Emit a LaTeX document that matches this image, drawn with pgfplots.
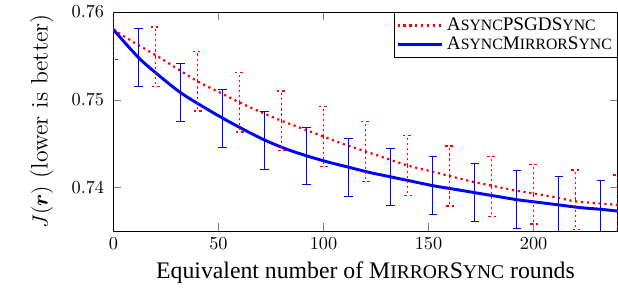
\documentclass[border=0pt]{standalone}
\usepackage{fontspec}
\newfontfamily\tnr{Liberation Serif}
\usepackage{amsmath,bm}
\usepackage{pgfplots}
\pgfplotsset{compat=1.18}
\usepackage{pgfplotstable}
\newcommand{\fsc}[1]{{\fontsize{0.82em}{1em}\selectfont\MakeUppercase{#1}}}
\pgfplotstableread{
x y
0 0.7580
12 0.7548
22 0.7527
32 0.7508
42 0.7493
52 0.7479
62 0.7466
72 0.7454
82 0.7444
92 0.7436
102 0.7429
112 0.7423
122 0.7417
132 0.7412
142 0.7407
152 0.7402
162 0.7398
172 0.7394
182 0.7390
192 0.7386
202 0.7383
212 0.7380
222 0.7377
232 0.7375
240 0.7373
}\bluecurve
\pgfplotstableread{
x y err
12 0.7548 0.0033
32 0.7508 0.0033
52 0.7479 0.0033
72 0.7454 0.0033
92 0.7436 0.0033
112 0.7423 0.0033
132 0.7412 0.0033
152 0.7402 0.0033
172 0.7394 0.0033
192 0.7386 0.0033
212 0.7380 0.0033
232 0.7375 0.0033
}\bluebars
\pgfplotstableread{
x y
0 0.7580
10 0.7565
20 0.7551
30 0.7536
40 0.7521
50 0.7509
60 0.7497
70 0.7486
80 0.7476
90 0.7467
100 0.7458
110 0.7449
120 0.7441
130 0.7433
140 0.7425
150 0.7419
160 0.7413
170 0.7407
180 0.7402
190 0.7397
200 0.7393
210 0.7389
220 0.7384
230 0.7382
240 0.7380
}\redcurve
\pgfplotstableread{
x y err
0 0.7580 0.0034
20 0.7549 0.0034
40 0.7521 0.0034
60 0.7497 0.0034
80 0.7476 0.0034
100 0.7458 0.0034
120 0.7441 0.0034
140 0.7425 0.0034
160 0.7413 0.0034
180 0.7401 0.0034
200 0.7392 0.0034
220 0.7386 0.0034
240 0.7380 0.0034
}\redbars
\begin{document}
\begin{tikzpicture}
\begin{axis}[
  scale only axis,
  width=276pt, height=120pt,
  xmin=0, xmax=240, ymin=0.735, ymax=0.76,
  xtick={0,50,100,150,200},
  ytick={0.74,0.75,0.76},
  yticklabel style={/pgf/number format/fixed, /pgf/number format/precision=2, xshift=-1.5pt},
  xlabel={\tnr\fontsize{13}{15}\selectfont Equivalent number of M\fsc{irror}S\fsc{ync} rounds},
  ylabel={\fontsize{13}{15}\selectfont $J(\bm{r})$ (lower is better)},
  ylabel style={yshift=3pt},
  legend style={at={(1,1)}, anchor=north east, font=\tnr\fontsize{10.5}{12}\selectfont, inner sep=1pt, row sep=-2pt},
  legend cell align=left,
  legend image code/.code={\draw[#1] (0cm,0cm) -- (0.85cm,0cm);},
  clip=true,
]
\addplot[red, dotted, line width=1.2pt, smooth] table[x=x,y=y] {\redcurve};
\addlegendentry{A\fsc{sync}PSGDS\fsc{ync}}
\addplot[blue, line width=1.6pt, smooth] table[x=x,y=y] {\bluecurve};
\addlegendentry{A\fsc{sync}M\fsc{irror}S\fsc{ync}}
\addplot[red, only marks, mark=*, mark size=0pt, forget plot, line width=0.8pt,
  error bars/.cd, y dir=both, y explicit,
  error bar style={red, draw=red, dash pattern=on 1.2pt off 1.6pt, line width=0.8pt},
  error mark options={red, draw=red, rotate=90, mark size=2.3pt, dash pattern=on 1.2pt off 1.6pt, line width=0.8pt}]
  table[x=x, y=y, y error=err] {\redbars};
\addplot[blue, only marks, mark=*, mark size=0pt, forget plot, line width=0.6pt,
  error bars/.cd, y dir=both, y explicit,
  error bar style={blue, solid, line width=0.6pt},
  error mark options={blue, rotate=90, mark size=2.3pt}]
  table[x=x, y=y, y error=err] {\bluebars};
\end{axis}
\path (current bounding box.west) ++(-13pt,0) coordinate (padL);
\path (padL);
\end{tikzpicture}
\end{document}
